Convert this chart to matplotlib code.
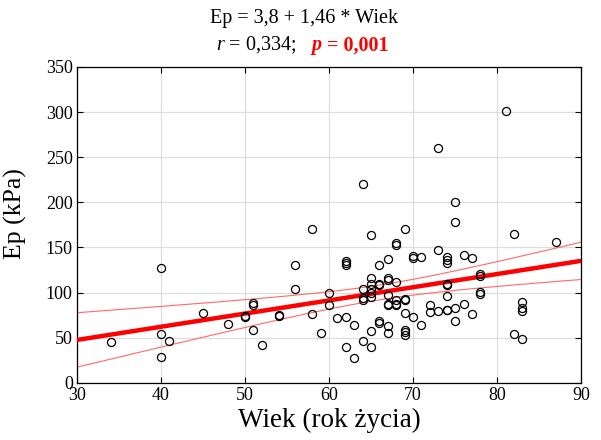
import numpy as np
import matplotlib.pyplot as plt

plt.rcParams['font.family'] = ['Liberation Serif', 'DejaVu Serif']
plt.rcParams['mathtext.fontset'] = 'custom'
plt.rcParams['mathtext.rm'] = 'Liberation Serif'
plt.rcParams['mathtext.it'] = 'Liberation Serif:italic'

# age (years) and Ep (kPa)
wiek = [34, 40, 40, 40, 41, 45, 48, 50, 50, 51, 51, 51, 52, 54, 54, 56, 56, 58, 58, 59,
        60, 60, 61, 62, 62, 62, 62, 62, 63, 63, 64, 64, 64, 64, 64,
        65, 65, 65, 65, 65, 65, 65, 65, 66, 66, 66, 66, 66,
        67, 67, 67, 67, 67, 67, 67, 67, 68, 68, 68, 68, 68, 68,
        69, 69, 69, 69, 69, 69, 69, 70, 70, 70, 71, 71, 72, 72, 73, 73, 73,
        74, 74, 74, 74, 74, 74, 74, 74, 75, 75, 75, 75, 76, 76, 77, 77,
        78, 78, 78, 78, 81, 82, 82, 83, 83, 83, 83, 87]
ep = [45, 127, 54, 29, 46, 77, 65, 73, 74, 86, 88, 59, 42, 74, 75, 130, 104, 170, 76, 55,
      99, 86, 72, 73, 135, 133, 131, 40, 64, 27, 220, 104, 94, 46, 92,
      164, 116, 110, 104, 100, 95, 57, 40, 131, 109, 69, 66, 108,
      137, 116, 114, 97, 87, 63, 55, 86, 155, 153, 112, 92, 87, 86,
      170, 93, 77, 59, 56, 53, 92, 141, 138, 73, 139, 64, 86, 78, 260, 147, 79,
      139, 136, 133, 110, 108, 96, 81, 81, 200, 178, 83, 68, 142, 87, 138, 76,
      120, 118, 101, 98, 301, 165, 54, 89, 83, 80, 49, 156]

xticks = [30, 40, 50, 60, 70, 80, 90]
yticks = [0, 50, 100, 150, 200, 250, 300, 350]

x = np.array(wiek, dtype=float)
y = np.array(ep, dtype=float)
n = len(x)

# linear fit and 95% confidence band for the mean
b, a = np.polyfit(x, y, 1)
xs = np.linspace(30, 90, 200)
ys = a + b * xs
res = y - (a + b * x)
s = np.sqrt(np.sum(res ** 2) / (n - 2))
sxx = np.sum((x - x.mean()) ** 2)
t = 1.984
se = s * np.sqrt(1.0 / n + (xs - x.mean()) ** 2 / sxx)

fig = plt.figure(figsize=(6.01, 4.40), dpi=100)
ax = fig.add_axes([0.128, 0.13, 0.839, 0.718])

ax.plot(xs, ys + t * se, color='#ff6a6a', lw=0.8, zorder=2)
ax.plot(xs, ys - t * se, color='#ff6a6a', lw=0.8, zorder=2)
ax.plot(xs, ys, color='#ff0000', lw=3.2, zorder=3)
ax.plot(x, y, 'o', mfc='none', mec='black', ms=5.8, mew=0.9, zorder=4)

ax.set_xlim(30, 90)
ax.set_ylim(0, 350)
ax.set_xticks(xticks)
ax.set_yticks(yticks)
ax.grid(True, color='#dddddd', lw=0.9, zorder=0)
ax.set_axisbelow(True)
ax.tick_params(direction='in', top=True, right=True, length=4, width=0.8,
               labelsize=13, pad=3)
for sp in ax.spines.values():
    sp.set_linewidth(0.9)

ax.set_xlabel('Wiek (rok życia)', fontsize=19.5, labelpad=3)
ax.set_ylabel('Ep (kPa)', fontsize=18.5)
ax.yaxis.set_label_coords(-0.1, 0.535)

fig.text(0.506, 0.958, 'Ep = 3,8 + 1,46 * Wiek', ha='center', va='center', fontsize=14.5)
fig.text(0.494, 0.897, '$r$ = 0,334;', ha='right', va='center', fontsize=14.5)
tp = fig.text(0.519, 0.897, 'p', ha='left', va='center', fontsize=14.5, color='red',
              weight='bold', style='italic')
ax.annotate(' = 0,001', xy=(1, 0), xycoords=tp, va='bottom', ha='left',
            fontsize=14.5, color='red', weight='bold')

fig.savefig('out.png', dpi=100)
